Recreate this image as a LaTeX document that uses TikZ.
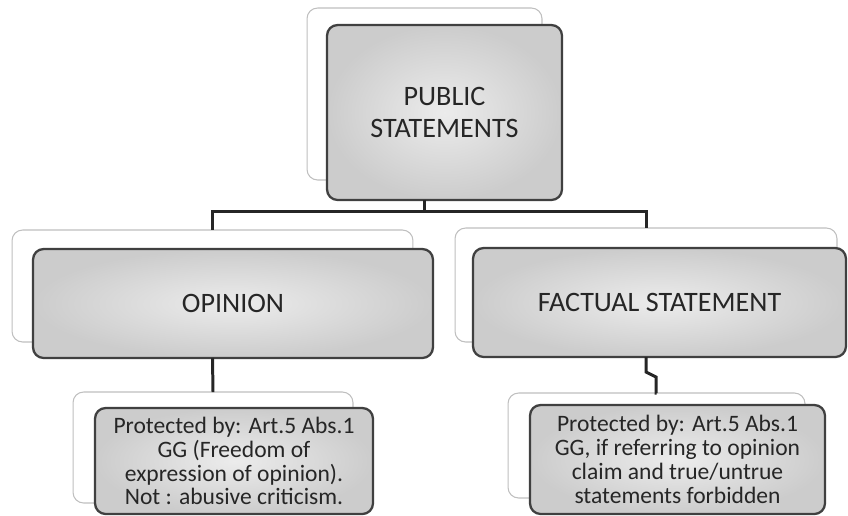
\documentclass[tikz,border=0pt]{standalone}
\usepackage{fontspec}
\setmainfont{Carlito}
\usetikzlibrary{positioning}

\tikzset{
  backbox/.style={draw=gray!50, fill=white, rounded corners=6pt, line width=0.6pt,
    inner sep=0pt, outer sep=0pt},
  frontbox/.style={draw=black!75, line width=1.3pt, rounded corners=6pt,
    inner color=gray!15, outer color=gray!40, text=black!85, align=center,
    inner sep=0pt, outer sep=0pt},
  link/.style={draw=black!85, line width=1.7pt},
  headtext/.style={font=\fontsize{16}{18}\selectfont},
  smalltext/.style={font=\fontsize{13.4}{13.6}\selectfont},
}

\begin{document}
\begin{tikzpicture}[x=0.02cm, y=-0.02cm]
    \useasboundingbox (0,0) rectangle (848,515);

    % Top box
    \node[backbox, minimum width=4.7cm, minimum height=3.44cm] (pubback) at (424.5,94) {};
    \node[frontbox, headtext, minimum width=4.7cm, minimum height=3.5cm] (pub) at (444.5,112.5)
      {PUBLIC\\STATEMENTS};

    % Second row
    \node[backbox, minimum width=8.02cm, minimum height=2.24cm] (opback) at (212.5,286) {};
    \node[frontbox, headtext, minimum width=8cm, minimum height=2.18cm] (opinion) at (233,303.5)
      {OPINION};
    \node[backbox, minimum width=7.64cm, minimum height=2.28cm] (factback) at (646,285) {};
    \node[frontbox, headtext, minimum width=7.46cm, minimum height=2.18cm] (fact) at (659.5,302.5)
      {FACTUAL STATEMENT};

    % Bottom row
    \node[backbox, minimum width=5.6cm, minimum height=2.22cm] (opprotback) at (213,447.5) {};
    \node[frontbox, smalltext, minimum width=5.56cm, minimum height=2.12cm] (opprot) at (234,461)
      {Protected by: Art.5 Abs.1\\GG (Freedom of\\expression of opinion).\\Not : abusive criticism.};
    \node[backbox, minimum width=5.94cm, minimum height=2.1cm] (factprotback) at (656.5,445.5) {};
    \node[frontbox, smalltext, minimum width=5.9cm, minimum height=2.18cm] (factprot) at (677.5,459.5)
      {Protected by: Art.5 Abs.1\\GG, if referring to opinion\\claim and true/untrue\\statements forbidden};

    % Connectors
    \draw[link] (pubback |- pub.south) -- ++(0,12) coordinate (split);
    \draw[link] (split) -| (opback.north);
    \draw[link] (split) -| (factback.north);
    \draw[link] (opback |- opinion.south) -- (opprotback.north);
    \draw[link] (factback |- fact.south) -- ++(0,15) -- ++(10,5) |- (factprotback.north);
  \end{tikzpicture}
\end{document}
